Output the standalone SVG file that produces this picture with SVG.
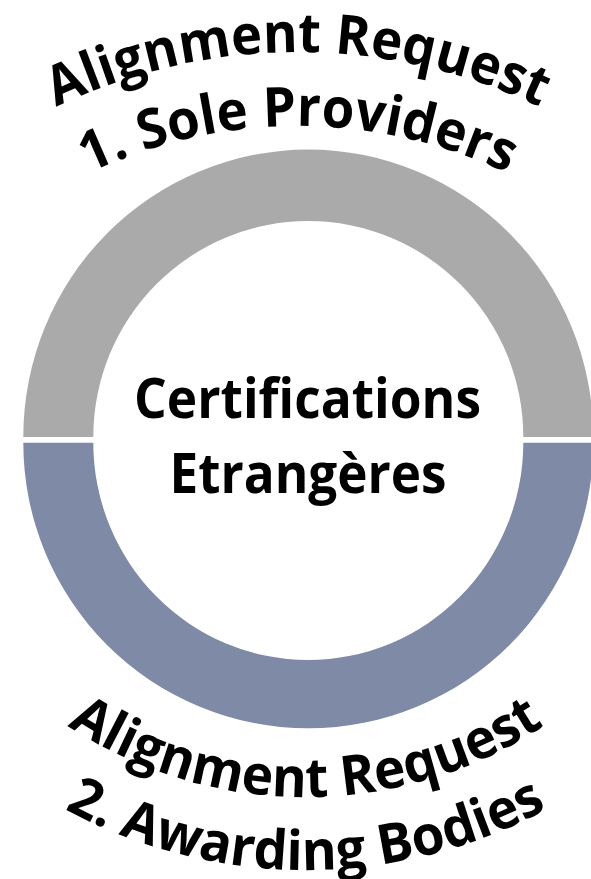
<svg xmlns="http://www.w3.org/2000/svg" xmlns:xlink="http://www.w3.org/1999/xlink" width="591" height="879" viewBox="0 0 591 879">
  <style>
    .lbl { font-family: "Open Sans", "Liberation Sans", sans-serif; font-weight: 700; font-size: 55px; fill: #000000; }
    .seg-top { fill: #ABAAAA; }
    .seg-bot { fill: #7F8AA6; }
  </style>
  <defs>
    <path id="arcTop1" d="M -263 613 A 561 561 0 0 1 859 613"/>
    <path id="arcTop2" d="M -189 613 A 487 487 0 0 1 785 613"/>
    <path id="arcBot1" d="M -128 363 A 434 434 0 0 0 740 363"/>
    <path id="arcBot2" d="M -201 363 A 507 507 0 0 0 813 363"/>
  </defs>
  <rect width="591" height="879" fill="#FFFFFF"/>
  <g id="segment-top">
    <path class="seg-top" d="M 23.3 437 A 285 287.5 0 0 1 593.3 437 L 523.3 437 A 215 216 0 0 0 93.3 437 Z"/>
    <text class="lbl"><textPath xlink:href="#arcTop1" href="#arcTop1" startOffset="50%" text-anchor="middle" textLength="500" lengthAdjust="spacingAndGlyphs">Alignment Request</textPath></text>
    <text class="lbl"><textPath xlink:href="#arcTop2" href="#arcTop2" startOffset="50%" text-anchor="middle" textLength="433" lengthAdjust="spacingAndGlyphs">1. Sole Providers</textPath></text>
  </g>
  <g id="segment-bottom">
    <path class="seg-bot" d="M 23.3 442.7 A 285 285.6 0 0 0 593.3 442.7 L 523.3 442.7 A 215 217.3 0 0 1 93.3 442.7 Z"/>
    <text class="lbl"><textPath xlink:href="#arcBot1" href="#arcBot1" startOffset="50%" text-anchor="middle" textLength="505" lengthAdjust="spacingAndGlyphs">Alignment Request</textPath></text>
    <text class="lbl"><textPath xlink:href="#arcBot2" href="#arcBot2" startOffset="50%" text-anchor="middle" textLength="503" lengthAdjust="spacingAndGlyphs">2. Awarding Bodies</textPath></text>
  </g>
  <g id="center">
    <text class="lbl" x="307.5" y="418" text-anchor="middle" textLength="347" lengthAdjust="spacingAndGlyphs">Certifications</text>
    <text class="lbl" x="308" y="493" text-anchor="middle" textLength="277" lengthAdjust="spacingAndGlyphs">Etrangères</text>
  </g>
  <g id="connectors"/>
</svg>
